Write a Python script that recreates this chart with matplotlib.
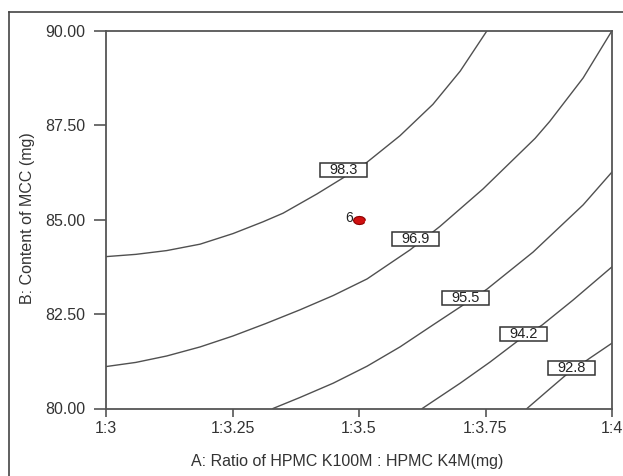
import matplotlib.pyplot as plt
import matplotlib.transforms as mtransforms
from matplotlib.lines import Line2D
from matplotlib.patches import Rectangle

plt.rcParams['font.family'] = ['Liberation Sans', 'DejaVu Sans']

# contour lines (A ratio as 3..4, B content in mg)
c983_x = [3.000, 3.059, 3.120, 3.186, 3.251, 3.310, 3.350, 3.417, 3.468, 3.516, 3.581, 3.646, 3.700, 3.753]
c983_y = [84.02, 84.08, 84.18, 84.35, 84.63, 84.94, 85.17, 85.68, 86.10, 86.52, 87.22, 88.05, 88.93, 90.00]

c969_x = [3.000, 3.059, 3.120, 3.186, 3.251, 3.316, 3.383, 3.449, 3.516, 3.601, 3.660, 3.745, 3.848, 3.877, 3.943, 4.000]
c969_y = [81.11, 81.22, 81.39, 81.63, 81.92, 82.25, 82.61, 82.99, 83.43, 84.20, 84.82, 85.81, 87.15, 87.60, 88.75, 90.00]

c955_x = [3.330, 3.383, 3.449, 3.516, 3.581, 3.646, 3.706, 3.753, 3.844, 3.943, 4.000]
c955_y = [80.00, 80.29, 80.67, 81.12, 81.63, 82.21, 82.74, 83.16, 84.14, 85.39, 86.26]

c942_x = [3.625, 3.700, 3.759, 3.814, 3.862, 3.923, 4.000]
c942_y = [80.00, 80.67, 81.23, 81.79, 82.21, 82.87, 83.75]

c928_x = [3.832, 3.877, 3.911, 3.957, 4.000]
c928_y = [80.00, 80.52, 80.91, 81.34, 81.73]

levels = ['98.3', '96.9', '95.5', '94.2', '92.8']
label_x = [3.469, 3.612, 3.710, 3.825, 3.920]
label_y = [86.30, 84.48, 82.92, 81.97, 81.06]

design_x = [3.5]
design_y = [85.0]
design_lab = ['6']

xticks = [3, 3.25, 3.5, 3.75, 4]
xtick_labels = ['1:3', '1:3.25', '1:3.5', '1:3.75', '1:4']
yticks = [80, 82.5, 85, 87.5, 90]

fig = plt.figure(figsize=(6.23, 4.76), dpi=100)
ax = fig.add_axes([106 / 623, 1 - 408.5 / 476, 506 / 623, 377.8 / 476])

# outer frame (cut by image edge on right and bottom)
fig.add_artist(Line2D([9 / 623, 1.0], [1 - 12 / 476, 1 - 12 / 476], color='#444', lw=1.2))
fig.add_artist(Line2D([9 / 623, 9 / 623], [0.0, 1 - 12 / 476], color='#444', lw=1.2))

curves = [(c983_x, c983_y), (c969_x, c969_y), (c955_x, c955_y), (c942_x, c942_y), (c928_x, c928_y)]
for cx, cy in curves:
    ax.plot(cx, cy, color='#505050', lw=1.0, zorder=2)

# contour labels in small white boxes (box size in inches)
for lab, lx, ly in zip(levels, label_x, label_y):
    tr = fig.dpi_scale_trans + mtransforms.ScaledTranslation(lx, ly, ax.transData)
    ax.add_patch(Rectangle((-0.235, -0.07), 0.47, 0.14, transform=tr, fc='white', ec='#333',
                           lw=1.1, zorder=3, clip_on=False))
    ax.text(lx, ly, lab, fontsize=10.5, color='#222', ha='center', va='center', zorder=4)

# design point
ell = [(1.0, 0.0), (0.866, 0.34), (0.5, 0.59), (0.0, 0.68), (-0.5, 0.59), (-0.866, 0.34),
       (-1.0, 0.0), (-0.866, -0.34), (-0.5, -0.59), (0.0, -0.68), (0.5, -0.59), (0.866, -0.34)]
ax.scatter(design_x, design_y, marker=ell, s=75, color='#d01010', edgecolors='#8b0000', linewidths=0.8, zorder=5)
for dx, dy, dl in zip(design_x, design_y, design_lab):
    ax.annotate(dl, xy=(dx, dy), xytext=(-4.5, 1.5), textcoords='offset points',
                ha='right', va='center', fontsize=10, color='#222')

ax.set_xlim(3, 4)
ax.set_ylim(80, 90)
ax.set_xticks(xticks)
ax.set_xticklabels(xtick_labels)
ax.set_yticks(yticks)
ax.set_yticklabels(['%.2f' % v for v in yticks])
for s in ax.spines.values():
    s.set_color('#555')
    s.set_linewidth(1.3)
ax.tick_params(axis='y', direction='out', length=9, width=1.2, pad=6, labelsize=11.5,
               color='#555', labelcolor='#333')
ax.tick_params(axis='x', direction='out', length=6, width=1.2, pad=3, labelsize=11.5,
               color='#555', labelcolor='#333')

fig.text(347.5 / 623, 10 / 476, 'A: Ratio of HPMC K100M : HPMC K4M(mg)', ha='center', va='baseline',
         fontsize=11.5, color='#333')
fig.text(28 / 623, 1 - 218 / 476, 'B: Content of MCC (mg)', ha='center', va='center', rotation=90,
         fontsize=11.5, color='#333')

fig.savefig('out.png', dpi=100)
